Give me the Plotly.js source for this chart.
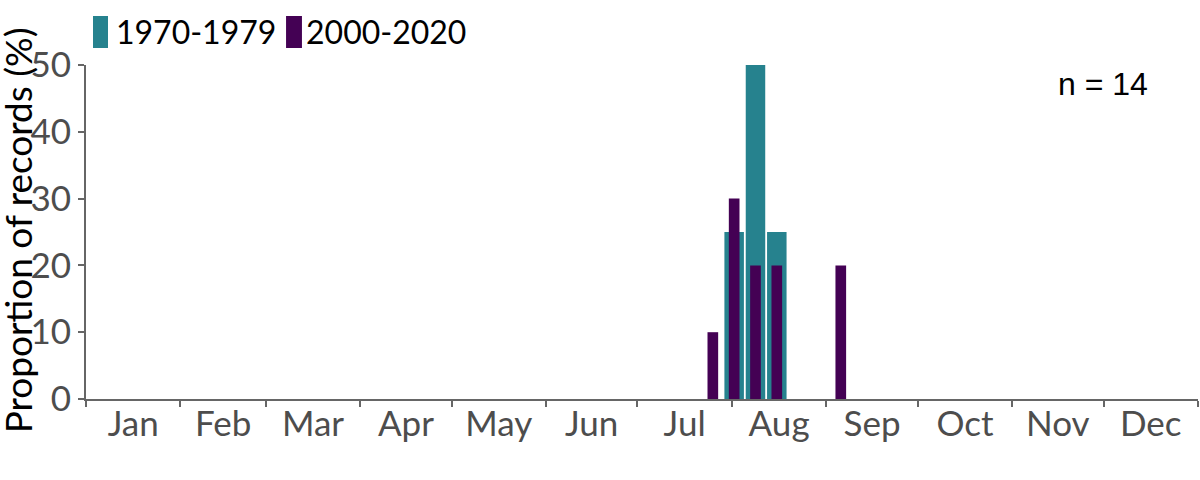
<!DOCTYPE html>
<html><head><meta charset="utf-8">
<script src="https://cdn.plot.ly/plotly-3.0.1.min.js"></script>
<style>body{margin:0;background:#fff}#chart{width:1200px;height:480px}
.legendpoints{visibility:hidden}</style>
</head><body><div id="chart"></div>
<script>
const weeks1970 = ["2021-08-01 18:00", "2021-08-08 18:00", "2021-08-15 18:00"];
const values1970 = [25, 50, 25];
const weeks2000 = ["2021-07-25 18:00", "2021-08-01 18:00", "2021-08-08 18:00", "2021-08-15 18:00", "2021-09-05 18:00"];
const values2000 = [10, 30, 20, 20, 20];
const seriesNames = ["1970-1979", "2000-2020"];
const seriesColors = ['#26828E', '#440154'];
const nLabel = "n = 14";
const yTitle = "Proportion of records (%)";
const DAY = 86400000;
const FONT = "Lato, 'Open Sans', sans-serif";

const traces = [
  {type: 'bar', name: seriesNames[0], x: weeks1970, y: values1970, width: 6.4 * DAY,
   marker: {color: seriesColors[0]}, hoverinfo: 'x+y', legend: 'legend'},
  {type: 'bar', name: seriesNames[1], x: weeks2000, y: values2000, width: 3.5 * DAY,
   marker: {color: seriesColors[1]}, hoverinfo: 'x+y', legend: 'legend2'}
];

const legendBase = {orientation: 'h', y: 1.182, xanchor: 'left', yanchor: 'top',
  font: {family: FONT, size: 32, color: '#000'}, bgcolor: 'rgba(0,0,0,0)'};

// legend swatches (tall rectangles) in paper coordinates
const swatch = (x0, x1, color) => ({type: 'rect', xref: 'paper', yref: 'paper',
  x0: x0, x1: x1, y0: 1.0509, y1: 1.1467, fillcolor: color, line: {width: 0}, layer: 'above'});

const layout = {
  width: 1200, height: 480,
  margin: {l: 86, r: 2, t: 65, b: 81, autoexpand: false},
  paper_bgcolor: '#fff', plot_bgcolor: '#fff',
  barmode: 'overlay',
  font: {family: FONT, size: 34, color: '#4d4d4d'},
  showlegend: true,
  legend: Object.assign({}, legendBase, {x: -0.009}),
  legend2: Object.assign({}, legendBase, {x: 0.1619}),
  xaxis: {
    type: 'date', range: ['2021-01-01', '2022-01-01'],
    dtick: 'M1', tick0: '2021-01-01', tickformat: '%b', ticklabelmode: 'period',
    ticks: 'outside', ticklen: 6, tickwidth: 2, tickcolor: '#666',
    ticklabelstandoff: -13,
    showline: true, linecolor: '#666', linewidth: 2,
    showgrid: false, zeroline: false,
    tickfont: {family: FONT, size: 35, color: '#4d4d4d'}
  },
  yaxis: {
    range: [0, 50], dtick: 10,
    ticks: 'outside', ticklen: 6, tickwidth: 2, tickcolor: '#666',
    showline: true, linecolor: '#666', linewidth: 2,
    showgrid: false, zeroline: false,
    tickfont: {family: FONT, size: 35, color: '#4d4d4d'}
  },
  shapes: [
    swatch(0.0063, 0.0198, seriesColors[0]),
    swatch(0.1799, 0.1942, seriesColors[1])
  ],
  annotations: [
    {text: nLabel, xref: 'paper', yref: 'paper', x: 0.9145, y: 0.944,
     xanchor: 'center', yanchor: 'middle', showarrow: false,
     font: {family: "'Liberation Sans', Arial, sans-serif", size: 32, color: '#000'}},
    {text: yTitle, xref: 'paper', yref: 'paper', x: -0.0621, y: 0.505,
     xanchor: 'center', yanchor: 'middle', showarrow: false, textangle: -90,
     font: {family: FONT, size: 37, color: '#000'}}
  ]
};

Plotly.newPlot('chart', traces, layout, {displayModeBar: false, staticPlot: true});
</script>
</body></html>
